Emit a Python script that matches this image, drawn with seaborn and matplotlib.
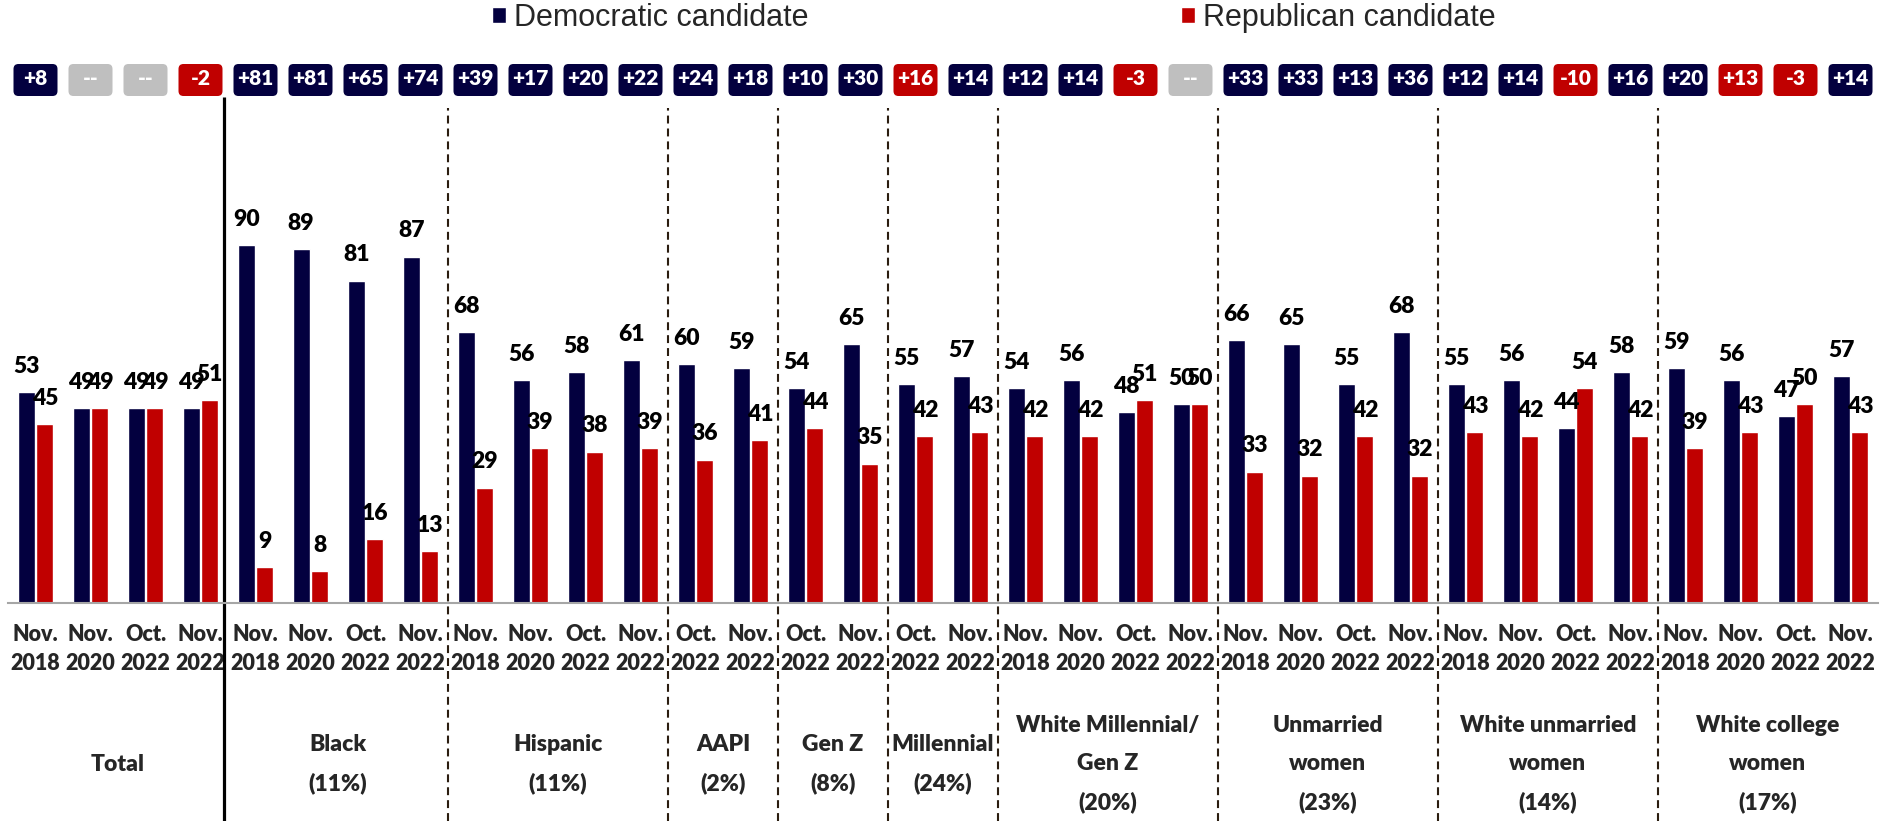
import matplotlib
matplotlib.use("Agg")
import matplotlib.pyplot as plt
import seaborn as sns
import pandas as pd
import numpy as np
from matplotlib.patches import FancyBboxPatch, Patch

# ---------------- data ----------------
DEM = "Democratic candidate"
REP = "Republican candidate"

group_names = ["Total", "Black\n(11%)", "Hispanic\n(11%)", "AAPI\n(2%)", "Gen Z\n(8%)",
               "Millennial\n(24%)", "White Millennial/\nGen Z\n(20%)", "Unmarried\nwomen\n(23%)",
               "White unmarried\nwomen\n(14%)", "White college\nwomen\n(17%)"]

four = ["Nov.\n2018", "Nov.\n2020", "Oct.\n2022", "Nov.\n2022"]
two = ["Oct.\n2022", "Nov.\n2022"]
group_periods = [four, four, four, two, two, two, four, four, four, four]

dem = [53, 49, 49, 49,
       90, 89, 81, 87,
       68, 56, 58, 61,
       60, 59,
       54, 65,
       55, 57,
       54, 56, 48, 50,
       66, 65, 55, 68,
       55, 56, 44, 58,
       59, 56, 47, 57]
rep = [45, 49, 49, 51,
       9, 8, 16, 13,
       29, 39, 38, 39,
       36, 41,
       44, 35,
       42, 43,
       42, 42, 51, 50,
       33, 32, 42, 32,
       43, 42, 54, 42,
       39, 43, 50, 43]

margins = ["+8", "--", "--", "-2",
           "+81", "+81", "+65", "+74",
           "+39", "+17", "+20", "+22",
           "+24", "+18",
           "+10", "+30",
           "+16", "+14",
           "+12", "+14", "-3", "--",
           "+33", "+33", "+13", "+36",
           "+12", "+14", "-10", "+16",
           "+20", "+13", "-3", "+14"]
margin_kind = ["D", "G", "G", "R",
               "D", "D", "D", "D",
               "D", "D", "D", "D",
               "D", "D",
               "D", "D",
               "R", "D",
               "D", "D", "R", "G",
               "D", "D", "D", "D",
               "D", "D", "R", "D",
               "D", "R", "R", "D"]

NAVY = "#03003F"
RED = "#C00000"
GRAY = "#BFBFBF"
kind_color = {"D": NAVY, "R": RED, "G": GRAY}
WEIGHT = "heavy"

tick_labels = [p for g in group_periods for p in g]
n = len(tick_labels)
df = pd.DataFrame({
    "pos": list(range(n)) * 2,
    "value": dem + rep,
    "party": [DEM] * n + [REP] * n,
})

# ---------------- style ----------------
sns.set_style("white")
plt.rcParams["font.family"] = ["Lato", "DejaVu Sans"]

W, H = 1883, 821
fig = plt.figure(figsize=(W / 100, H / 100), dpi=100)
ax_left, ax_right, base_y = 8, 1878, 603
ax = fig.add_axes([ax_left / W, (H - base_y) / H, (ax_right - ax_left) / W, base_y / H])

px_per_unit = 3.98
ytop = base_y / px_per_unit

sns.barplot(data=df, x="pos", y="value", hue="party", hue_order=[DEM, REP],
            palette=[NAVY, RED], width=0.68, gap=0.1, saturation=1,
            errorbar=None, legend=False, ax=ax)

ax.set_xlim(-0.5, n - 0.5)
ax.set_ylim(0, ytop)

# value labels
for cont in ax.containers:
    ax.bar_label(cont, labels=[f"{int(v)}" for v in cont.datavalues], padding=11,
                 fontsize=16.5, fontweight=WEIGHT, color="black")

# axis / ticks
ax.set_xlabel("")
ax.set_ylabel("")
ax.set_yticks([])
ax.set_xticks(np.arange(n + 1) - 0.5)
ax.set_xticklabels([])
ax.set_xticks(np.arange(n), tick_labels, minor=True)
ax.tick_params(axis="x", which="major", length=5, width=1.3, color="#A6A6A6", direction="out")
ax.tick_params(axis="x", which="minor", length=0, pad=15, labelsize=15.5)
for t in ax.get_xticklabels(minor=True):
    t.set_fontweight(WEIGHT)
    t.set_linespacing(1.5)
for s in ["left", "top", "right"]:
    ax.spines[s].set_visible(False)
ax.spines["bottom"].set_color("#A6A6A6")
ax.spines["bottom"].set_linewidth(1.5)

# separators
sizes = [len(g) for g in group_periods]
starts = np.concatenate([[0], np.cumsum(sizes)[:-1]])
bounds = np.cumsum(sizes)[:-1] - 0.5
y_bottom = (base_y - H) / px_per_unit
for i, b in enumerate(bounds):
    if i == 0:
        ax.plot([b - 0.07, b - 0.07], [y_bottom, (base_y - 97) / px_per_unit],
                color="black", lw=2.3, clip_on=False, solid_capstyle="butt")
    else:
        ax.plot([b, b], [y_bottom, (base_y - 108) / px_per_unit],
                color="#2B1D10", lw=1.5, ls=(0, (3.8, 2.4)), clip_on=False)

# group labels
grp_y = (base_y - 764) / px_per_unit
for name, s, k in zip(group_names, starts, sizes):
    ax.text(s + (k - 1) / 2, grp_y, name, ha="center", va="center", fontsize=16.5,
            fontweight=WEIGHT, linespacing=2.0, clip_on=False)

# margin boxes
box_w = 44 / 55.0
box_h = 32 / px_per_unit
box_y = (base_y - 80) / px_per_unit
aspect = (box_h / 32) / (box_w / 44)
for i, (m, k) in enumerate(zip(margins, margin_kind)):
    p = FancyBboxPatch((i - box_w / 2, box_y - box_h / 2), box_w, box_h,
                       boxstyle="round,pad=0,rounding_size=0.09", mutation_aspect=aspect,
                       fc=kind_color[k], ec="none", clip_on=False)
    ax.add_patch(p)
    ax.text(i, box_y + 0.3, m, ha="center", va="center", color="white", fontsize=15,
            fontweight=WEIGHT, clip_on=False)

# legend
handles = [Patch(facecolor=NAVY), Patch(facecolor=RED)]
fig.legend(handles, [DEM, REP], loc="center", bbox_to_anchor=(993.5 / W, 1 - 18 / H),
           ncol=2, frameon=False, prop={"family": "Liberation Sans", "size": 22},
           handlelength=0.46, handleheight=0.46, handletextpad=0.25, columnspacing=12.2,
           borderpad=0, borderaxespad=0)

fig.savefig("out.png", dpi=100)
